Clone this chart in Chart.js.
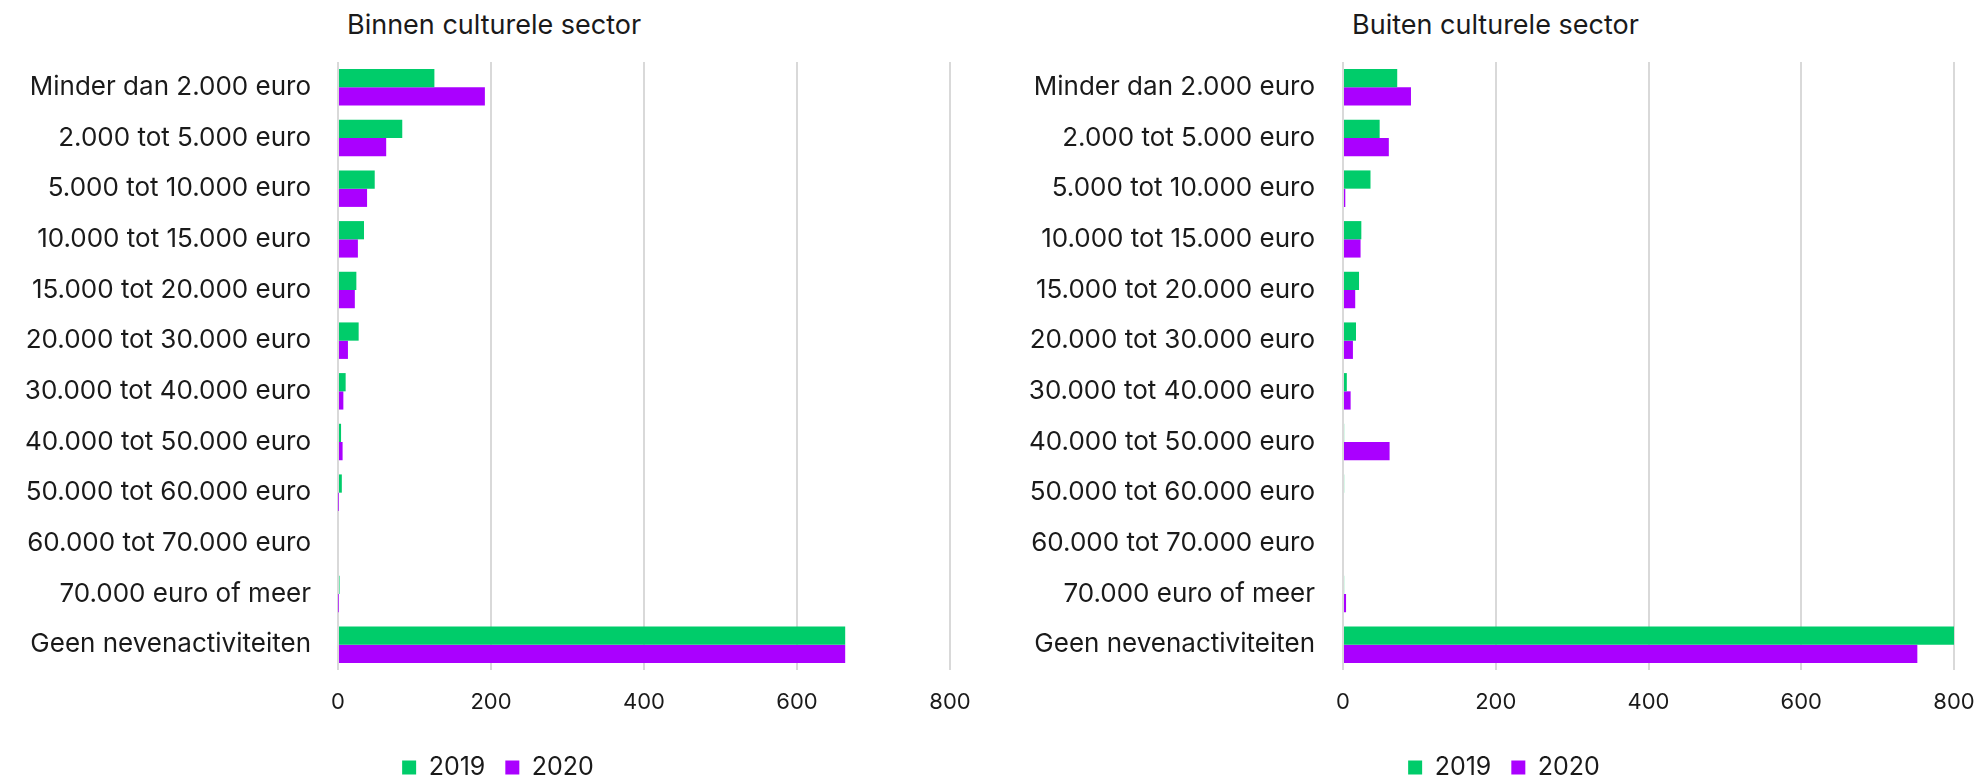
<!DOCTYPE html>
<html>
<head>
<meta charset="utf-8">
<script src="https://cdn.jsdelivr.net/npm/chart.js@4.4.1/dist/chart.umd.min.js"></script>
<style>
  html, body { margin: 0; padding: 0; background: #fff; }
  body { width: 1979px; height: 776px; position: relative; overflow: hidden; font-family: Inter, "Noto Sans", sans-serif; }
  .box { position: absolute; top: 0; height: 790px; }
  .title { position: absolute; top: 8px; font-size: 27px; line-height: 34px; color: #1a1a1a; white-space: nowrap; }
</style>
</head>
<body>
<div class="title" id="t1" style="left:347px;">Binnen culturele sector</div>
<div class="title" id="t2" style="left:1352px;">Buiten culturele sector</div>
<div class="box" style="left:0px;width:990px;"><canvas id="c1"></canvas></div>
<div class="box" style="left:1000px;width:994px;"><canvas id="c2"></canvas></div>
<script>
const categories = [
  "Minder dan 2.000 euro",
  "2.000 tot 5.000 euro",
  "5.000 tot 10.000 euro",
  "10.000 tot 15.000 euro",
  "15.000 tot 20.000 euro",
  "20.000 tot 30.000 euro",
  "30.000 tot 40.000 euro",
  "40.000 tot 50.000 euro",
  "50.000 tot 60.000 euro",
  "60.000 tot 70.000 euro",
  "70.000 euro of meer",
  "Geen nevenactiviteiten"
];
const seriesNames = ["2019", "2020"];
const binnen2019 = [126, 84, 48, 34, 24, 27, 10, 4, 5, 0, 2, 663];
const binnen2020 = [192, 63, 38, 26, 22, 13, 7, 6, 0.4, 0, 0.4, 663];
const buiten2019 = [71, 48, 36, 24, 21, 17, 5, 1.5, 1.5, 0, 1.5, 800];
const buiten2020 = [89, 60, 3, 23, 16, 13, 10, 61, 0, 0, 4, 752];
const xTicks = [0, 200, 400, 600, 800];

const GREEN = "#00cc6a";
const PURPLE = "#aa00ff";
const GRID = "#d9d9d9";
const TEXT = "#1a1a1a";
const FONT = "Inter, 'Noto Sans', sans-serif";
const LEGEND_PAD = 20;

function makeChart(id, d2019, d2020, yWidth, labelPad, padRight, legendShift) {
  return new Chart(document.getElementById(id), {
    type: "bar",
    data: {
      labels: categories,
      datasets: [
        { label: seriesNames[0], data: d2019, backgroundColor: GREEN, borderWidth: 0 },
        { label: seriesNames[1], data: d2020, backgroundColor: PURPLE, borderWidth: 0 }
      ]
    },
    plugins: [{
      id: "legendShift",
      afterLayout(chart) {
        const lg = chart.legend;
        if (lg) { lg.left += legendShift; lg.right += legendShift; }
      }
    }],
    options: {
      indexAxis: "y",
      responsive: true,
      maintainAspectRatio: false,
      animation: false,
      devicePixelRatio: 1,
      layout: { padding: { top: 62, right: padRight, bottom: 0, left: 0 } },
      datasets: { bar: { categoryPercentage: 0.72, barPercentage: 1.0 } },
      plugins: {
        legend: {
          position: "bottom",
          labels: {
            font: { family: FONT, size: 25 },
            color: TEXT,
            boxWidth: 14,
            boxHeight: 14,
            padding: LEGEND_PAD
          }
        },
        tooltip: { enabled: false },
        title: { display: false }
      },
      scales: {
        x: {
          min: 0,
          max: 800,
          afterBuildTicks: (s) => { s.ticks = xTicks.map(v => ({ value: v })); },
          afterFit: (s) => { s.height = 85 - LEGEND_PAD; },
          grid: { color: GRID, lineWidth: 2, drawTicks: false },
          border: { display: false },
          ticks: { font: { family: FONT, size: 22 }, color: TEXT, padding: 19, maxRotation: 0 }
        },
        y: {
          afterFit: (s) => { s.width = yWidth; },
          grid: { display: false, drawTicks: false },
          border: { display: false },
          ticks: { font: { family: FONT, size: 26 }, color: TEXT, padding: labelPad, autoSkip: false }
        }
      }
    }
  });
}

makeChart("c1", binnen2019, binnen2020, 338, 27, 40, 23);
makeChart("c2", buiten2019, buiten2020, 343, 28, 40, 27);
</script>
</body>
</html>
